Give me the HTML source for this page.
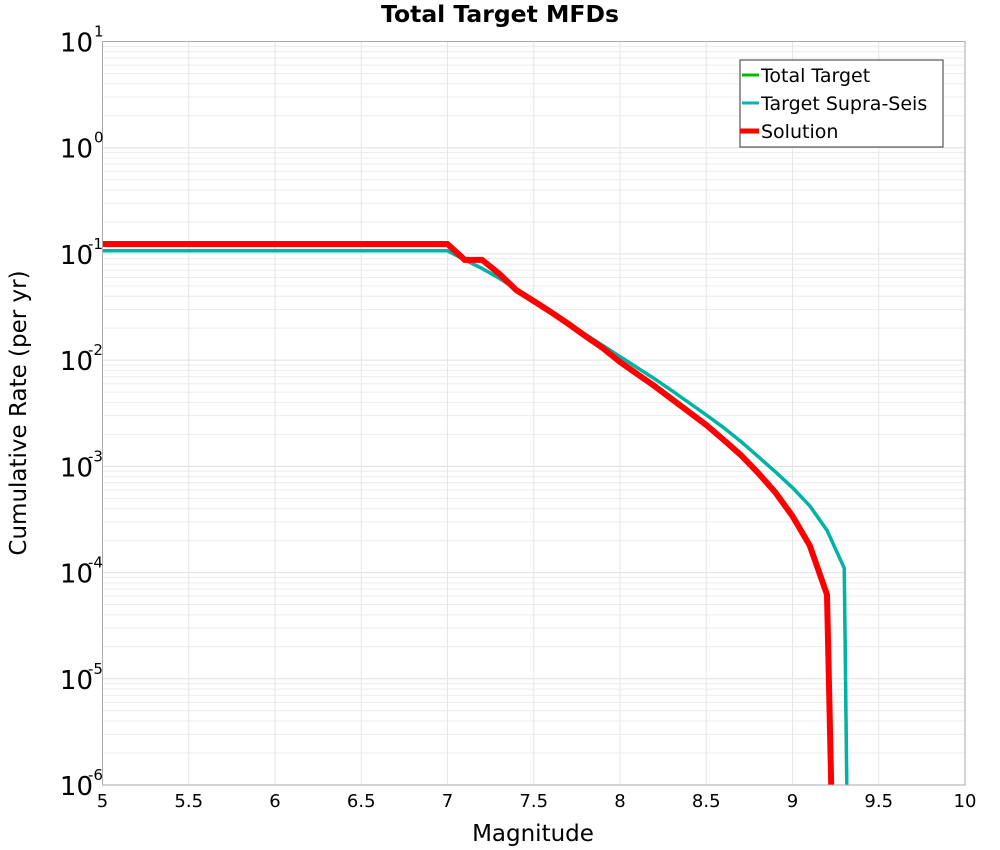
<!DOCTYPE html>
<html><head><meta charset="utf-8"><style>
body{margin:0;background:#fff;}
svg{display:block;font-family:"DejaVu Sans","Liberation Sans",sans-serif;}
</style></head><body>
<svg id="chart" width="1000" height="850" viewBox="0 0 1000 850" xmlns="http://www.w3.org/2000/svg">
<rect x="0" y="0" width="1000" height="850" fill="#fff"/>
<text x="500" y="22" text-anchor="middle" font-size="23.5" font-weight="bold">Total Target MFDs</text>
<g id="grid"></g>
<g id="series"></g>
<rect x="102.5" y="41.5" width="862.5" height="743.5" fill="none" stroke="#aaa" stroke-width="1"/>
<g id="ticks"></g>
<text x="533" y="841" text-anchor="middle" font-size="23">Magnitude</text>
<text transform="translate(26,413) rotate(-90)" text-anchor="middle" font-size="23">Cumulative Rate (per yr)</text>
<g>
<rect x="740" y="60" width="203" height="87" fill="#fff" stroke="#555" stroke-width="1.2"/>
<g><line x1="742" y1="75" x2="759" y2="75" stroke="#00bb00" stroke-width="3"/><text x="761" y="82" font-size="19">Total Target</text></g>
<g><line x1="742" y1="103" x2="759" y2="103" stroke="#00b5b5" stroke-width="3"/><text x="761" y="110" font-size="19">Target Supra-Seis</text></g>
<g><line x1="740" y1="131" x2="759" y2="131" stroke="#ff0000" stroke-width="5"/><text x="761" y="138" font-size="19">Solution</text></g>
</g>
</svg>
<script>
const mags = [5.0,7.0,7.1,7.2,7.3,7.4,7.5,7.6,7.7,7.8,7.9,8.0,8.1,8.2,8.3,8.4,8.5,8.6,8.7,8.8,8.9,9.0,9.1,9.2,9.3];
const supraRates = [0.107,0.107,0.0880,0.0730,0.0590,0.0464,0.0365,0.0287,0.0222,0.0175,0.01374,0.0108,0.00849,0.00668,0.00517,0.00397,0.00305,0.00232,0.00172,0.00124,0.000890,0.000630,0.000425,0.000250,0.000110];
const solMags = [5.0,7.0,7.1,7.2,7.3,7.4,7.5,7.6,7.7,7.8,7.9,8.0,8.1,8.2,8.3,8.4,8.5,8.6,8.7,8.8,8.9,9.0,9.1,9.2];
const solRates = [0.124,0.124,0.0880,0.0880,0.0650,0.0455,0.0360,0.0283,0.0220,0.0168,0.0130,0.00960,0.00740,0.00570,0.00430,0.00325,0.00245,0.00178,0.00128,0.000870,0.000570,0.000340,0.000180,0.0000620];
const supraEndMag = 9.315;
const solEndMag = 9.225;
const xTicks = [5,5.5,6,6.5,7,7.5,8,8.5,9,9.5,10];
const yExps = [1,0,-1,-2,-3,-4,-5,-6];

const NS="http://www.w3.org/2000/svg";
const L=102.5,R=965,T=41.5,B=785;
const xMin=5,xMax=10,yMaxE=1,yMinE=-6;
function X(m){return L+(m-xMin)/(xMax-xMin)*(R-L);}
function Y(v){const lg=Math.max(Math.log10(v),yMinE-0.05);return T+(yMaxE-lg)/(yMaxE-yMinE)*(B-T);}
function mk(tag,attrs,parent){const e=document.createElementNS(NS,tag);for(const k in attrs)e.setAttribute(k,attrs[k]);parent.appendChild(e);return e;}
const grid=document.getElementById('grid'),ticks=document.getElementById('ticks'),series=document.getElementById('series');
for(let e=yMinE;e<yMaxE;e++){for(let k=2;k<=9;k++){const y=Y(k*Math.pow(10,e));const ln=mk('line',{x1:L,x2:R,y1:y,y2:y,stroke:'#ececec','stroke-width':1},grid);}}
yExps.forEach(e=>{const y=Y(Math.pow(10,e));const ln=mk('line',{x1:L,x2:R,y1:y,y2:y,stroke:'#e0e0e0','stroke-width':1},grid);
const t=mk('text',{x:93,y:y+10,'text-anchor':'end','font-size':26},ticks);t.textContent='10';
const s=mk('text',{x:e<0?88:94,y:y-5,'text-anchor':'start','font-size':15},ticks);s.textContent=String(e);});
xTicks.forEach(m=>{const x=X(m);const ln=mk('line',{x1:x,x2:x,y1:T,y2:B,stroke:'#e6e6e6','stroke-width':1},grid);
const t=mk('text',{x:x,y:807,'text-anchor':'middle','font-size':18},ticks);t.textContent=String(m);});
function pts(ms,vs,endM){const p=ms.map((m,i)=>X(m)+','+Y(vs[i]));p.push(X(endM)+','+(B+5));return p.join(' ');}
const g1=mk('polyline',{points:pts(mags,supraRates,supraEndMag),fill:'none',stroke:'#00bb00','stroke-width':3},series);

const g2=mk('polyline',{points:pts(mags,supraRates,supraEndMag),fill:'none',stroke:'#00b3a6','stroke-width':3.5},series);

const g3=mk('polyline',{points:pts(solMags,solRates,solEndMag),fill:'none',stroke:'#ff0000','stroke-width':6,'stroke-linejoin':'miter'},series);

const clip=mk('clipPath',{id:'pc'},document.getElementById('chart'));mk('rect',{x:L,y:T,width:R-L,height:B-T},clip);
series.setAttribute('clip-path','url(#pc)');
</script>
</body></html>
